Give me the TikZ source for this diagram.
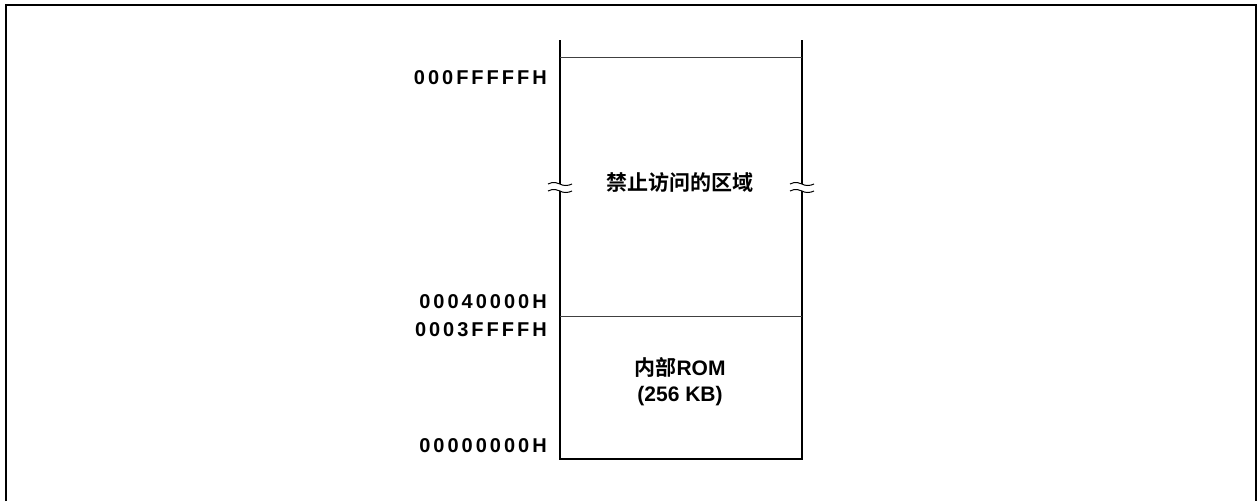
\documentclass[tikz,border=0pt]{standalone}
\usepackage{fontspec}
\setmainfont{Liberation Sans}
\newfontfamily\addrfont[LetterSpace=15]{Liberation Sans}
\newfontfamily\cjk[BoldFont={Noto Sans CJK SC Bold}]{Noto Sans CJK SC}
\begin{document}
\begin{tikzpicture}[x=1pt,y=-1pt,
  frame/.style={line width=2pt,black},
  wall/.style={line width=2pt,black},
  sep/.style={line width=0.9pt,black!75},
  brk/.style={line width=1pt,black},
  addr/.style={anchor=east,inner sep=0pt,font=\addrfont\bfseries\fontsize{20}{22}\selectfont},
  area/.style={align=center,inner sep=0pt,font=\bfseries\fontsize{21}{26}\selectfont}]
\useasboundingbox (0,0) rectangle (1258,501);
% outer frame (open at bottom)
\draw[frame] (5.5,501) -- (5.5,4.5) -- (1255.5,4.5) -- (1255.5,501);
% column corner coordinates
\coordinate (tl) at (560,40);
\coordinate (tr) at (802,40);
\coordinate (bl) at (560,459);
\coordinate (br) at (802,459);
\coordinate (l1) at (560,57);
\coordinate (r1) at (802,57);
\coordinate (l2) at (560,316);
\coordinate (r2) at (802,316);
\coordinate (lbA) at (560,184);
\coordinate (lbB) at (560,191);
\coordinate (rbA) at (802,184);
\coordinate (rbB) at (802,191);
% walls with break
\draw[wall] (tl) -- (lbA);
\draw[wall] (lbB) -- (bl) -- (br) -- (rbB);
\draw[wall] (tr) -- (rbA);
% separators
\draw[sep] (l1) -- (r1);
\draw[sep] (l2) -- (r2);
% break marks
\foreach \c in {lbA,lbB,rbA,rbB}{
  \draw[brk] ([xshift=-12pt]\c) .. controls ([xshift=-6pt,yshift=3pt]\c) and ([xshift=-3pt,yshift=1pt]\c) .. (\c)
             .. controls ([xshift=3pt,yshift=-2pt]\c) and ([xshift=8pt,yshift=-2pt]\c) .. ([xshift=12pt]\c);
}
% labels
\node[addr] (a1) at (547,78) {000FFFFFH};
\node[addr] (a2) at (547,302) {00040000H};
\node[addr] (a3) at (547,330) {0003FFFFH};
\node[addr] (a4) at (547,446) {00000000H};
\node[area,font=\cjk\bfseries\fontsize{21}{26}\selectfont] (forbid) at (680,183) {禁止访问的区域};
\node[area] (rom) at (680,382) {{\cjk\bfseries 内部}ROM\\(256 KB)};
\end{tikzpicture}
\end{document}
